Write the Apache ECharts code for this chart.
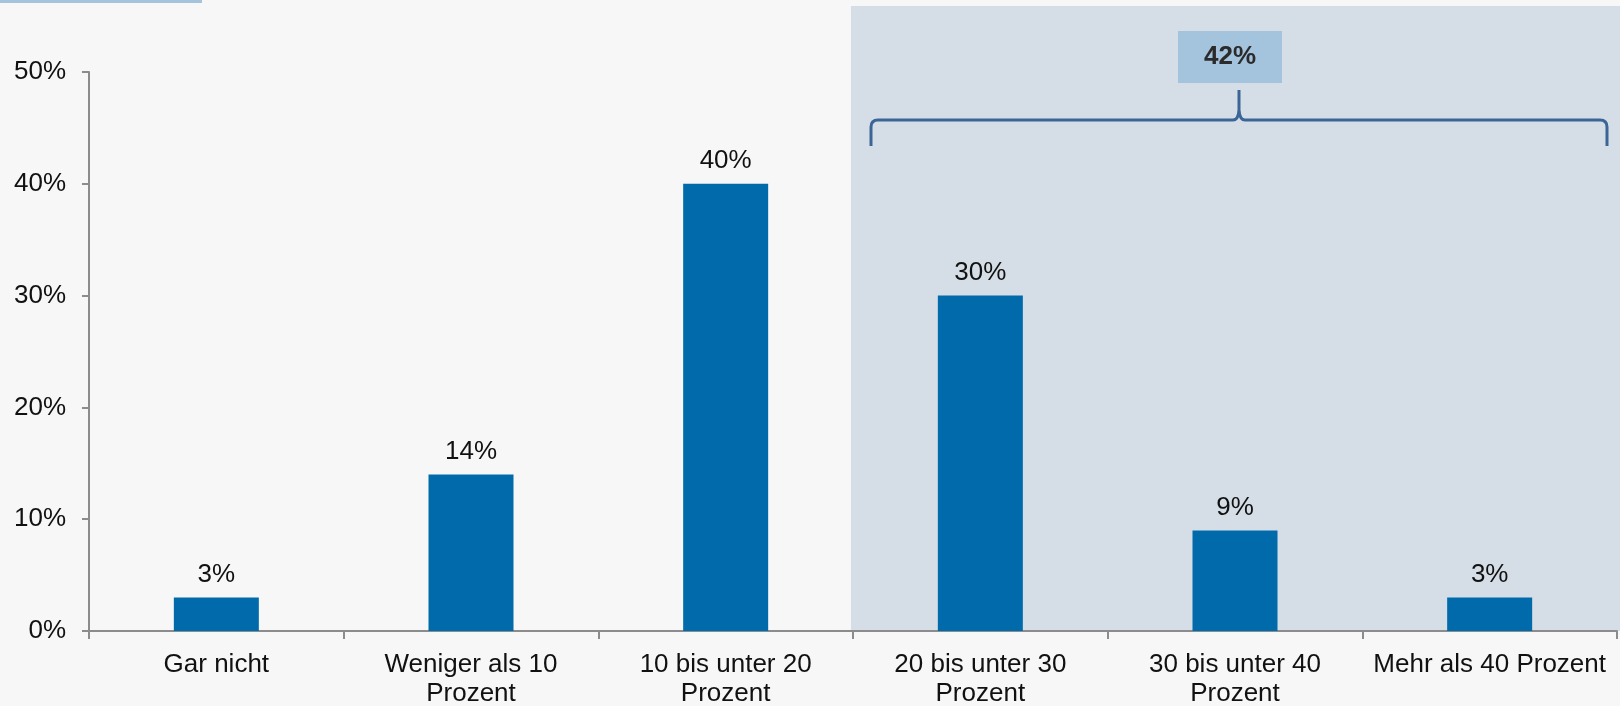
<!DOCTYPE html>
<html><head><meta charset="utf-8">
<script src="https://cdn.jsdelivr.net/npm/echarts@6/dist/echarts.min.js"></script>
<style>html,body{margin:0;padding:0;background:#f7f7f7}#c{width:1620px;height:706px}</style>
</head><body><div id="c"></div>
<script>
const categories = ['Gar nicht', 'Weniger als 10\nProzent', '10 bis unter 20\nProzent', '20 bis unter 30\nProzent', '30 bis unter 40\nProzent', 'Mehr als 40 Prozent'];
const shares = [3, 14, 40, 30, 9, 3];
const yTickValues = [0, 10, 20, 30, 40, 50];
const highlightStart = 3; // first highlighted category index
const highlightTotal = shares.slice(highlightStart).reduce((a, b) => a + b, 0);

const FONT = 'Liberation Sans, Arial, sans-serif';
const chart = echarts.init(document.getElementById('c'), null, {renderer: 'canvas'});
chart.setOption({
  animation: false,
  backgroundColor: '#f7f7f7',
  grid: {left: 89, right: 3, top: 72, bottom: 75, containLabel: false, outerBoundsMode: 'none'},
  xAxis: {
    type: 'category', data: categories,
    axisLine: {lineStyle: {color: '#8c8c8c', width: 2}},
    axisTick: {show: true, length: 8, lineStyle: {color: '#8c8c8c', width: 2}},
    axisLabel: {color: '#111', fontFamily: FONT, fontSize: 26, lineHeight: 29, margin: 19, interval: 0}
  },
  yAxis: {
    type: 'value', min: yTickValues[0], max: yTickValues[yTickValues.length - 1], interval: 10,
    splitLine: {show: false},
    axisLine: {show: true, lineStyle: {color: '#8c8c8c', width: 2}},
    axisTick: {show: true, length: 7, lineStyle: {color: '#8c8c8c', width: 2}},
    axisLabel: {color: '#111', fontFamily: FONT, fontSize: 26, margin: 23, padding: [4, 0, 0, 0], formatter: '{value}%'}
  },
  series: [{
    type: 'bar', data: shares, barWidth: 85, z: 3,
    itemStyle: {color: '#006aab'},
    label: {show: true, position: 'top', distance: 10, color: '#111', fontFamily: FONT, fontSize: 26, formatter: '{c}%'}
  }]
});

// decorations positioned from the library's own axis scale
const c0 = chart.convertToPixel({xAxisIndex: 0}, categories[0]);
const c1 = chart.convertToPixel({xAxisIndex: 0}, categories[1]);
const band = c1 - c0;
const hs = chart.convertToPixel({xAxisIndex: 0}, categories[highlightStart]) - band / 2;
const he = chart.convertToPixel({xAxisIndex: 0}, categories[categories.length - 1]) + band / 2;
const yBase = chart.convertToPixel({yAxisIndex: 0}, 0);
const yTop = chart.convertToPixel({yAxisIndex: 0}, yTickValues[yTickValues.length - 1]);

const bl = hs + 18, br = he - 10, bc = (bl + br) / 2;
const by = yTop + 48, byEnd = yTop + 74, tip = yTop + 18;
const r = 7;
const braceStyle = {stroke: '#3a6596', lineWidth: 3, fill: 'none'};
function seg(x1, y1, x2, y2) {
  return {type: 'line', z: 5, shape: {x1, y1, x2, y2}, style: braceStyle};
}
function curve(x1, y1, cpx1, cpy1, x2, y2) {
  return {type: 'bezierCurve', z: 5, shape: {x1, y1, x2, y2, cpx1, cpy1}, style: braceStyle};
}

chart.setOption({
  graphic: [
    {type: 'rect', z: -10, shape: {x: 0, y: 0, width: 202, height: 3}, style: {fill: '#a4c3dd'}},
    {type: 'rect', z: -5, shape: {x: hs - 2, y: 6, width: 1620 - (hs - 2), height: yBase - 6}, style: {fill: '#d5dee7'}},
    seg(bl, byEnd, bl, by + r),
    curve(bl, by + r, bl, by, bl + r, by),
    seg(bl + r, by, bc - 6, by),
    curve(bc - 6, by, bc - 1, by, bc, by - 9),
    seg(bc, by - 9, bc, tip),
    curve(bc, by - 9, bc + 1, by, bc + 6, by),
    seg(bc + 6, by, br - r, by),
    curve(br - r, by, br, by, br, by + r),
    seg(br, by + r, br, byEnd),
    {type: 'rect', z: 5, shape: {x: bc - 61, y: yTop - 41, width: 104, height: 52}, style: {fill: '#a4c3dd'}},
    {type: 'text', z: 6, x: bc - 9, y: yTop - 15, style: {text: highlightTotal + '%', fill: '#2b2b2b', font: 'bold 26px ' + FONT, align: 'center', verticalAlign: 'middle'}}
  ]
});
</script></body></html>
